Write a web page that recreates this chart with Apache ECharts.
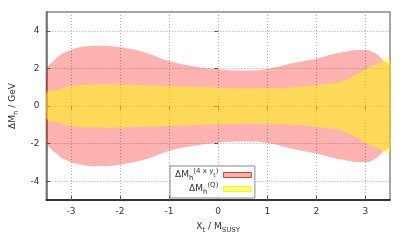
<!DOCTYPE html>
<html>
<head>
<meta charset="utf-8">
<script src="https://cdn.jsdelivr.net/npm/echarts@6/dist/echarts.min.js"></script>
<style>html,body{margin:0;padding:0;background:#fff}#c{width:407px;height:244px}</style>
</head>
<body>
<div id="c"></div>
<script>
// ---- data ----
var pinkX     = [-3.5, -3.3, -3.0, -2.7, -2.45, -2.0, -1.5, -1.0, -0.5, 0.0, 0.5, 1.0, 1.5, 2.0, 2.5, 3.0, 3.2, 3.35, 3.5];
var pinkUpper = [1.75, 2.53, 2.98, 3.16, 3.20, 3.12, 2.85, 2.39, 2.12, 1.95, 1.89, 1.97, 2.27, 2.53, 2.85, 2.98, 2.80, 2.45, 2.05];
var pinkLower = [-1.75, -2.53, -2.98, -3.16, -3.20, -3.12, -2.85, -2.39, -2.12, -1.95, -1.89, -1.97, -2.27, -2.53, -2.85, -2.98, -2.80, -2.45, -2.05];

var yellowX     = [-3.5, -3.25, -3.0, -2.5, -1.5, -0.5, 0.0, 1.0, 1.5, 2.0, 2.5, 2.75, 3.0, 3.25, 3.5];
var yellowUpper = [0.67, 0.90, 1.06, 1.15, 1.10, 1.02, 0.97, 0.94, 0.99, 1.12, 1.30, 1.60, 1.95, 2.25, 2.43];
var yellowLower = [-0.67, -0.90, -1.06, -1.15, -1.10, -1.02, -0.97, -0.94, -0.99, -1.12, -1.30, -1.60, -1.95, -2.25, -2.43];

var xTicks = [-3, -2, -1, 0, 1, 2, 3];
var yTicks = [-4, -2, 0, 2, 4];
var seriesNames = ['dM4yt', 'dMQ'];

// ---- build options ----
var FONT = 'DejaVu Sans';
var TXT = '#333';
function pairs(xs, ys) { return xs.map(function (x, i) { return [x, ys[i]]; }); }

function bandRenderer(xs, up, lo, fill) {
  return function (params, api) {
    if (params.dataIndex !== 0) return null;
    var pts = [];
    for (var i = 0; i < xs.length; i++) pts.push(api.coord([xs[i], up[i]]));
    for (var j = xs.length - 1; j >= 0; j--) pts.push(api.coord([xs[j], lo[j]]));
    return {
      type: 'polygon',
      shape: { points: pts, smooth: 0.5 },
      style: { fill: fill, stroke: null }
    };
  };
}

var rich = {
  n:   { fontFamily: FONT, fontSize: 9, color: TXT, lineHeight: 14 },
  sub: { fontFamily: FONT, fontSize: 7, color: TXT, lineHeight: 8, verticalAlign: 'bottom' },
  sup: { fontFamily: FONT, fontSize: 7, color: TXT, lineHeight: 8, verticalAlign: 'top' },
  ss:  { fontFamily: FONT, fontSize: 6, color: TXT, lineHeight: 6, verticalAlign: 'middle' }
};

var PINK = 'rgba(255,0,0,0.3)';
var YELLOW = 'rgba(255,255,0,0.5)';

var chart = echarts.init(document.getElementById('c'), null, { renderer: 'canvas' });
chart.setOption({
  animation: false,
  backgroundColor: '#fff',
  grid: { left: 37, right: 17, top: 12, bottom: 44, show: true, borderColor: '#888', borderWidth: 1.5, backgroundColor: 'transparent' },
  xAxis: [{
    type: 'value', min: -3.5, max: 3.5, position: 'bottom',
    axisLine: { show: true, onZero: false, lineStyle: { color: '#111', width: 1.5 } },
    axisTick: { show: true, inside: true, length: 4, customValues: xTicks, lineStyle: { color: '#555' } },
    axisLabel: { show: true, customValues: xTicks, fontFamily: FONT, fontSize: 9, color: TXT, margin: 7 },
    splitLine: { show: true, lineStyle: { color: '#aaa', type: [1, 2], width: 1 } },
    name: '{n|X}{sub|t}{n| / M}{sub|SUSY}', nameLocation: 'middle', nameGap: 20,
    nameTextStyle: { rich: rich }
  }, {
    type: 'value', min: -3.5, max: 3.5, position: 'top',
    axisLine: { show: false },
    axisTick: { show: true, inside: true, length: 4, customValues: xTicks, lineStyle: { color: '#555' } },
    axisLabel: { show: false },
    splitLine: { show: false }
  }],
  yAxis: [{
    type: 'value', min: -5, max: 5, position: 'left',
    axisLine: { show: true, onZero: false, lineStyle: { color: '#666', width: 1.5 } },
    axisTick: { show: true, inside: true, length: 4, customValues: yTicks, lineStyle: { color: '#555' } },
    axisLabel: { show: true, customValues: yTicks, fontFamily: FONT, fontSize: 9, color: TXT, margin: 7 },
    splitLine: { show: true, lineStyle: { color: '#aaa', type: [1, 2], width: 1 } },
    name: '{n|ΔM}{sub|h}{n| / GeV}', nameLocation: 'middle', nameGap: 23, nameRotate: 90,
    nameTextStyle: { rich: rich }
  }, {
    type: 'value', min: -5, max: 5, position: 'right',
    axisLine: { show: false },
    axisTick: { show: true, inside: true, length: 4, customValues: yTicks, lineStyle: { color: '#555' } },
    axisLabel: { show: false },
    splitLine: { show: false }
  }],
  legend: {
    orient: 'vertical', left: 170, top: 166, align: 'right',
    backgroundColor: '#fff', borderColor: '#888', borderWidth: 1,
    padding: [2, 3, 2, 5], itemGap: 0, itemWidth: 28, itemHeight: 5,
    data: [
      { name: seriesNames[0], icon: 'rect', itemStyle: { color: PINK, borderColor: '#ee3333', borderWidth: 1 } },
      { name: seriesNames[1], icon: 'rect', itemStyle: { color: 'rgba(255,255,0,0.6)', borderColor: '#f0f040', borderWidth: 1 } }
    ],
    formatter: function (name) {
      if (name === seriesNames[0]) return '{n|ΔM}{sub|h}{sup|(4 x y}{ss|t}{sup|)}';
      return '{n|ΔM}{sub|h}{sup|(Q)}';
    },
    textStyle: { rich: rich }
  },
  series: [
    { name: seriesNames[0], type: 'custom', clip: true, itemStyle: { color: PINK },
      renderItem: bandRenderer(pinkX, pinkUpper, pinkLower, PINK),
      data: pairs(pinkX, pinkUpper) },
    { name: seriesNames[1], type: 'custom', clip: true, itemStyle: { color: YELLOW },
      renderItem: bandRenderer(yellowX, yellowUpper, yellowLower, YELLOW),
      data: pairs(yellowX, yellowUpper) }
  ]
});
</script>
</body>
</html>
